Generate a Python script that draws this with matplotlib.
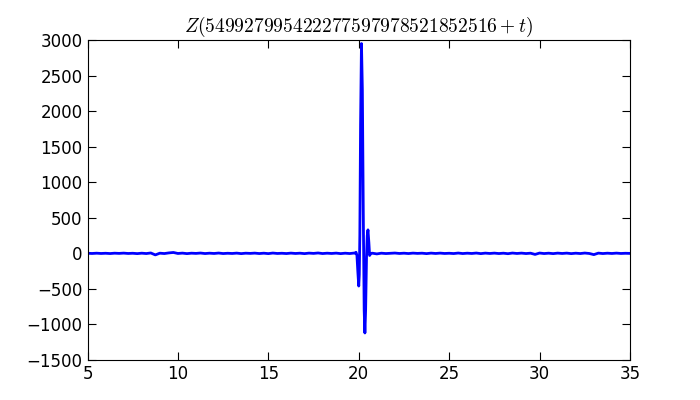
import numpy as np
import matplotlib
matplotlib.use("Agg")
from matplotlib import pyplot as plt

plt.rcParams['mathtext.fontset'] = 'cm'
plt.rcParams['xtick.direction'] = 'in'
plt.rcParams['ytick.direction'] = 'in'
plt.rcParams['xtick.top'] = True
plt.rcParams['ytick.right'] = True
plt.rcParams['xtick.major.size'] = 6
plt.rcParams['ytick.major.size'] = 6

# Z-Werte links der Spitze (Raster 0.25)
t_left = np.arange(5.0, 19.8, 0.25)
z_left = [1, -2, 2, -2, 1, -3, 2, -1, 3, -2, 1, -4, 2, -3, 5, -22,
          2, -3, 6, 12, -2, 3, -4, 2, -1, 4, -3, 2, -2, 4,
          -3, 1, -2, 3, -4, 2, -1, 3, -3, 2, -4, 4, -2, 1, -3, 3,
          -2, 2, -4, 3, -1, 5, -3, 2, -2, 3, -4, 2, -3, 4]

# Bereich um die Spitze
t_mid = [19.80, 19.85, 19.90, 19.95, 20.00, 20.03, 20.06, 20.10, 20.15,
         20.20, 20.25, 20.30, 20.34, 20.38, 20.43, 20.47, 20.51, 20.56,
         20.60, 20.65, 20.70]
z_mid = [0, 15, -30, -260, -460, -300, 250, 1800, 2950,
         2300, 600, -800, -1120, -800, -50, 250, 330, 150,
         -30, -10, 0]

# rechts der Spitze
t_right = np.arange(20.75, 35.01, 0.25)
z_right = [2, -8, 2, -3, 1, 4, -2, 2, -3, 3, -1, 2, -4, 3, -2, 3,
           -2, 1, -3, 4, -3, 2, -2, 4, -4, 3, -2, 3, -3, 2, -5, 4,
           -2, 3, -3, 2, -15, 4, -3, 2, -4, 3, -2, 3, -4, 2,
           -3, 4, -2, -18, 3, -3, 2, -2, 3, -2, 1, -1]

t = np.concatenate([t_left, t_mid, t_right])
z = np.concatenate([z_left, z_mid, z_right])

fig = plt.figure(figsize=(7, 4), dpi=100)
ax = fig.add_axes([0.125, 0.1, 0.775, 0.8])
ax.plot(t, z, color='#0000ff', linewidth=2)
ax.set_xlim(5, 35)
ax.set_ylim(-1500, 3000)
ax.set_xticks([5, 10, 15, 20, 25, 30, 35])
ax.set_yticks(np.arange(-1500, 3001, 500))
ax.tick_params(labelsize=12)
ax.set_title(r'$Z(549927995422277597978521852516+t)$', fontsize=14)
fig.savefig('out.png', dpi=100)
